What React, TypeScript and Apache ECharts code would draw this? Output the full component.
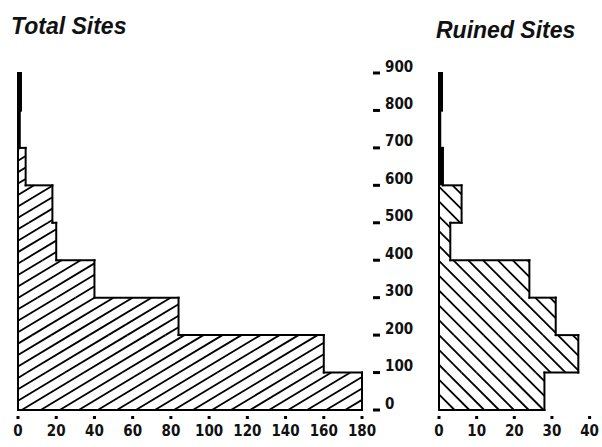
import React, { useEffect, useRef } from "react";
import * as echarts from "echarts";

// Altitude bins (m)
const binStart = [0, 100, 200, 300, 400, 500, 600, 700, 800];
const binEnd = [100, 200, 300, 400, 500, 600, 700, 800, 900];
// Number of sites per altitude bin
const totalSites = [180, 160, 84, 40, 20, 18, 4, 0.8, 1.5];
const ruinedSites = [28, 37, 31, 24, 3, 6, 1, 0.3, 0.8];

const altitudeTicks = [0, 100, 200, 300, 400, 500, 600, 700, 800, 900];

const titles = ["Total Sites", "Ruined Sites"];

const INK = "#111";
const LABEL_FONT = "'DejaVu Sans Condensed', 'Liberation Sans Narrow', sans-serif";
const TITLE_FONT = "'Liberation Sans', Arial, sans-serif";

function hatch(
  x0: number, y0: number, x1: number, y1: number,
  angleDeg: number, spacing: number, rising: boolean
) {
  const a = (angleDeg * Math.PI) / 180;
  const dx = Math.cos(a);
  const dy = rising ? -Math.sin(a) : Math.sin(a);
  const nx = -dy, ny = dx;
  const corners = [[x0, y0], [x1, y0], [x0, y1], [x1, y1]];
  let cmin = Infinity, cmax = -Infinity;
  corners.forEach(([x, y]) => {
    const c = nx * x + ny * y;
    cmin = Math.min(cmin, c);
    cmax = Math.max(cmax, c);
  });
  const segs: number[][] = [];
  for (let c = Math.ceil(cmin / spacing) * spacing; c <= cmax; c += spacing) {
    const px = c * nx, py = c * ny;
    let tmin = -Infinity, tmax = Infinity;
    if (Math.abs(dx) > 1e-9) {
      const ta = (x0 - px) / dx, tb = (x1 - px) / dx;
      tmin = Math.max(tmin, Math.min(ta, tb));
      tmax = Math.min(tmax, Math.max(ta, tb));
    }
    if (Math.abs(dy) > 1e-9) {
      const ta = (y0 - py) / dy, tb = (y1 - py) / dy;
      tmin = Math.max(tmin, Math.min(ta, tb));
      tmax = Math.min(tmax, Math.max(ta, tb));
    }
    if (tmax - tmin > 0.5) {
      segs.push([px + tmin * dx, py + tmin * dy, px + tmax * dx, py + tmax * dy]);
    }
  }
  return segs;
}

function makeRenderItem(values: number[], angle: number, spacing: number, rising: boolean) {
  return (params: any, api: any) => {
    const i = params.dataIndex;
    const lo = api.value(0);
    const hi = api.value(1);
    const v = api.value(2);
    const pLo = api.coord([0, lo]);
    const pHi = api.coord([v, hi]);
    const xL = pLo[0], xR = pHi[0], yB = pLo[1], yT = pHi[1];
    const lineStyle = { stroke: "#000", lineWidth: 2, lineCap: "square" };
    const children: any[] = [];
    if (xR - xL < 5) {
      children.push({
        type: "rect",
        shape: { x: xL - 1, y: yT, width: xR - xL + 2, height: yB - yT },
        style: { fill: "#000" },
      });
    } else {
      hatch(xL, yT, xR, yB, angle, spacing, rising).forEach((s) => {
        children.push({
          type: "line",
          shape: { x1: s[0], y1: s[1], x2: s[2], y2: s[3] },
          style: { stroke: "#000", lineWidth: 1.8 },
        });
      });
    }
    const prev = i === 0 ? 0 : values[i - 1];
    const xPrev = api.coord([prev, lo])[0];
    children.push({ type: "line", shape: { x1: xL, y1: yB, x2: xL, y2: yT }, style: lineStyle });
    children.push({ type: "line", shape: { x1: xR, y1: yB, x2: xR, y2: yT }, style: lineStyle });
    children.push({ type: "line", shape: { x1: xPrev, y1: yB, x2: xR, y2: yB }, style: lineStyle });
    if (i === values.length - 1) {
      children.push({ type: "line", shape: { x1: xL, y1: yT, x2: xR, y2: yT }, style: lineStyle });
    }
    return { type: "group", children };
  };
}

export default function App() {
  const ref = useRef<HTMLDivElement>(null);
  useEffect(() => {
    if (!ref.current) return;
    const chart = echarts.init(ref.current, null, { renderer: "svg" });
    const xLabel = {
      fontFamily: LABEL_FONT,
      fontWeight: "bold",
      fontSize: 15,
      color: INK,
      margin: 3,
      align: "center",
      verticalAlign: "top",
      showMinLabel: true,
      showMaxLabel: true,
      formatter: (v: number) => `{t| }\n{n|${v}}`,
      rich: {
        t: { width: 3, height: 3, lineHeight: 9, backgroundColor: "#000", fontSize: 3 },
        n: { fontFamily: LABEL_FONT, fontWeight: "bold", fontSize: 15, lineHeight: 17, color: INK },
      },
    };
    const dataTotal = binStart.map((s, i) => [s, binEnd[i], totalSites[i]]);
    const dataRuined = binStart.map((s, i) => [s, binEnd[i], ruinedSites[i]]);
    const titleStyle = {
      fontFamily: TITLE_FONT, fontStyle: "italic", fontWeight: "bold", fontSize: 23, color: INK,
    };
    chart.setOption({
      animation: false,
      backgroundColor: "#fff",
      title: [
        { text: titles[0], left: 11, top: 14, padding: 0, textStyle: titleStyle },
        { text: titles[1], left: 436, top: 18, padding: 0, textStyle: titleStyle },
      ],
      grid: [
        { left: 18, top: 73, width: 344, height: 337 },
        { left: 439, top: 73, width: 154, height: 337 },
      ],
      xAxis: [
        {
          gridIndex: 0, type: "value", min: 0, max: 180, interval: 20,
          axisLine: { show: false }, axisTick: { show: false }, splitLine: { show: false }, axisLabel: xLabel,
        },
        {
          gridIndex: 1, type: "value", min: 0, max: 40, interval: 10,
          axisLine: { show: false }, axisTick: { show: false }, splitLine: { show: false }, axisLabel: xLabel,
        },
      ],
      yAxis: [
        {
          gridIndex: 0, type: "value", min: 0, max: 900, interval: 100, show: false,
        },
        {
          gridIndex: 1, type: "value", min: 0, max: 900, interval: 100, position: "left", offset: 70,
          axisLine: { show: false },
          axisTick: { show: false },
          splitLine: { show: false },
          axisLabel: {
            inside: true, margin: 4, align: "left", verticalAlign: "middle",
            color: INK, showMinLabel: true, showMaxLabel: true,
            formatter: (v: number) => (altitudeTicks.includes(v) ? `{d| }{v|${v}}` : ""),
            rich: {
              d: { width: 7, height: 3, backgroundColor: "#000", fontSize: 3 },
              v: {
                fontFamily: LABEL_FONT, fontWeight: "bold", fontSize: 15, lineHeight: 15,
                color: INK, padding: [0, 0, 13, 5],
              },
            },
          },
        },
      ],
      series: [
        {
          type: "custom", xAxisIndex: 0, yAxisIndex: 0, coordinateSystem: "cartesian2d",
          encode: { x: 2, y: [0, 1] }, data: dataTotal, clip: false,
          renderItem: makeRenderItem(totalSites, 31, 9.8, true),
        },
        {
          type: "custom", xAxisIndex: 1, yAxisIndex: 1, coordinateSystem: "cartesian2d",
          encode: { x: 2, y: [0, 1] }, data: dataRuined, clip: false,
          renderItem: makeRenderItem(ruinedSites, 45, 10.5, false),
        },
      ],
    });
    return () => chart.dispose();
  }, []);
  return (
    <div
      ref={ref}
      style={{ position: "fixed", left: 0, top: 0, width: 602, height: 447, background: "#fff" }}
    />
  );
}
